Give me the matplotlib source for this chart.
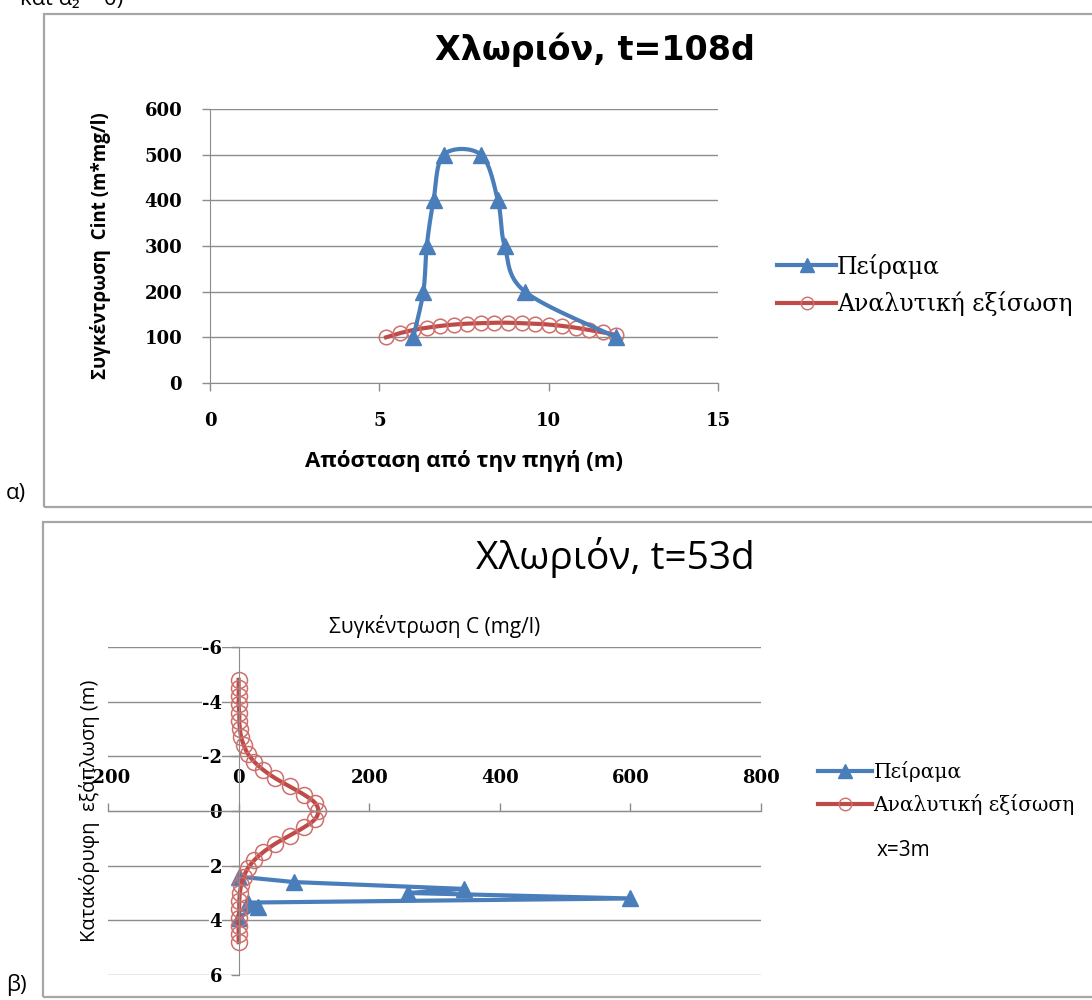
import matplotlib.pyplot as plt
import numpy as np
from matplotlib.patches import Rectangle
from matplotlib.lines import Line2D

plt.rcParams['axes.unicode_minus'] = False

W, H = 1092, 1000

# α) Χλωριόν, t=108d : ολοκληρωμένη συγκέντρωση
dist_exp = [6.0, 6.3, 6.4, 6.6, 6.9, 8.0, 8.5, 8.7, 9.3, 12.0]
cint_exp = [100, 200, 300, 400, 500, 500, 400, 300, 200, 100]
dist_an = [5.2, 5.6, 6.0, 6.4, 6.8, 7.2, 7.6, 8.0, 8.4, 8.8, 9.2, 9.6,
           10.0, 10.4, 10.8, 11.2, 11.6, 12.0]
cint_an = [100, 109, 116, 121, 125, 128, 130, 131, 132, 132, 131, 130,
           128, 125, 121, 116, 111, 105]

# β) Χλωριόν, t=53d : κατακόρυφη κατανομή στο x=3m
c_exp = [0, 85, 345, 260, 600, 15, 30, 0]
z_exp = [2.4, 2.6, 2.85, 3.0, 3.2, 3.35, 3.5, 3.9]
z_an = [-4.8, -4.5, -4.2, -3.9, -3.6, -3.3, -3.0, -2.7, -2.4, -2.1, -1.8,
        -1.5, -1.2, -0.9, -0.6, -0.3, 0.0, 0.3, 0.6, 0.9, 1.2, 1.5, 1.8,
        2.1, 2.4, 2.7, 3.0, 3.3, 3.6, 3.9, 4.2, 4.5, 4.8]
c_an = [0, 0, 0, 0, 1, 1, 2, 4, 8, 14, 24, 38, 56, 78, 100, 117, 122,
        117, 100, 78, 56, 38, 24, 14, 8, 4, 2, 1, 1, 0, 0, 0, 0]

BLUE = '#4a7ebb'
RED = '#be4b48'
RED_EDGE = '#cf6f6c'
GRID = '#8c8c8c'
SANS = ['Open Sans', 'DejaVu Sans']


def smooth(x, y, n=16):
    # bezier smoothing like the spreadsheet "smoothed line" option
    p = np.column_stack([x, y]).astype(float)
    p = np.vstack([p[0], p, p[-1]])
    out = [p[1]]
    t = np.linspace(0, 1, n)[1:, None]
    for i in range(1, len(p) - 2):
        p0, p1, p2, p3 = p[i - 1], p[i], p[i + 1], p[i + 2]
        c1 = p1 + (p2 - p0) / 6
        c2 = p2 - (p3 - p1) / 6
        seg = (1 - t)**3 * p1 + 3 * (1 - t)**2 * t * c1 + 3 * (1 - t) * t**2 * c2 + t**3 * p2
        out.extend(seg)
    out = np.array(out)
    return out[:, 0], out[:, 1]


def rect(x0, y0, x1, y1):
    return [x0 / W, 1 - y1 / H, (x1 - x0) / W, (y1 - y0) / H]


def style_ticks(ax, size=13):
    for lbl in ax.get_xticklabels() + ax.get_yticklabels():
        lbl.set_fontfamily('DejaVu Serif')
        lbl.set_fontweight('bold')
        lbl.set_fontsize(size)


fig = plt.figure(figsize=(W / 100, H / 100), dpi=100)

# chart frames (they run past the right edge of the page)
for y0, y1, x0 in [(14, 507, 44), (522, 997, 43)]:
    fig.add_artist(Rectangle((x0 / W, 1 - y1 / H), 1.2, (y1 - y0) / H,
                             transform=fig.transFigure, fill=False,
                             edgecolor='#a6a6a6', lw=1.6, clip_on=False))

fig.text(20 / W, 1 - 5 / H, 'και α₂ = 0)', fontsize=16, family=SANS, va='baseline')
fig.text(6 / W, 1 - 494 / H, 'α)', fontsize=16, family=SANS, va='center')
fig.text(6 / W, 1 - 985 / H, 'β)', fontsize=16, family=SANS, va='center')

# ---------------- α ----------------
ax1 = fig.add_axes(rect(210, 109, 718, 383))
xs, ys = smooth(dist_an, cint_an)
ax1.plot(xs, ys, color=RED, lw=3)
ax1.plot(dist_an, cint_an, ls='none', marker='o', ms=10.5, mfc='none', mec=RED_EDGE, mew=1.1)
xs, ys = smooth(dist_exp, cint_exp)
ax1.plot(xs, ys, color=BLUE, lw=3)
ax1.plot(dist_exp, cint_exp, ls='none', marker='^', ms=12, color=BLUE)
ax1.set_xlim(0, 15)
ax1.set_ylim(0, 600)
ax1.set_xticks([0, 5, 10, 15])
ax1.set_yticks(range(0, 601, 100))
ax1.grid(axis='y', color=GRID, lw=1)
ax1.set_axisbelow(True)
for s in ['top', 'right']:
    ax1.spines[s].set_visible(False)
for s in ['left', 'bottom']:
    ax1.spines[s].set_color(GRID)
ax1.tick_params(direction='out', length=6, color=GRID, width=1)
ax1.tick_params(axis='y', pad=14)
ax1.tick_params(axis='x', pad=15)
style_ticks(ax1)
ax1.set_xlabel('Απόσταση από την πηγή (m)', family=SANS, fontweight='bold', fontsize=16, labelpad=14)
ax1.set_ylabel('Συγκέντρωση  Cint (m*mg/l)', family=SANS, fontweight='bold', fontsize=13.5, labelpad=24)
fig.text(595 / W, 1 - 50 / H, 'Χλωριόν, t=108d', fontsize=24, fontweight='bold',
         family='DejaVu Sans', ha='center', va='center')

h1 = [Line2D([], [], color=BLUE, lw=3, marker='^', ms=10),
      Line2D([], [], color=RED, lw=3, marker='o', ms=9, mfc='none', mec=RED_EDGE)]
fig.legend(h1, ['Πείραμα', 'Αναλυτική εξίσωση'], loc='center left',
           bbox_to_anchor=(777 / W, 1 - 285 / H), frameon=False,
           prop={'family': 'DejaVu Serif', 'size': 17}, handlelength=2.5,
           handletextpad=0.05, labelspacing=0.55, borderpad=0, borderaxespad=0)

# ---------------- β ----------------
ax2 = fig.add_axes(rect(108, 647, 761, 975))
xs, ys = smooth(c_an, z_an)
ax2.plot(c_exp, z_exp, color=BLUE, lw=3, marker='^', ms=12)
ax2.plot(xs, ys, color=RED, lw=3)
ax2.plot(c_an, z_an, ls='none', marker='o', ms=11.5, mfc='none', mec=RED_EDGE, mew=1.1)
ax2.set_xlim(-200, 800)
ax2.set_ylim(6, -6)
ax2.set_xticks(range(-200, 801, 200))
ax2.set_yticks(range(-6, 7, 2))
ax2.set_xticklabels([str(v) for v in range(-200, 801, 200)])
ax2.set_yticklabels([str(v) for v in range(-6, 7, 2)])
ax2.grid(axis='y', color=GRID, lw=1)
ax2.set_axisbelow(True)
ax2.xaxis.tick_top()
ax2.spines['top'].set_position(('data', 0))
ax2.spines['left'].set_position(('data', 0))
ax2.spines['right'].set_visible(False)
ax2.spines['bottom'].set_visible(False)
for s in ['top', 'left']:
    ax2.spines[s].set_color(GRID)
ax2.tick_params(direction='out', length=6, color=GRID, width=1)
ax2.tick_params(axis='x', pad=11)
ax2.tick_params(axis='y', pad=6)
style_ticks(ax2)
for lbl in ax2.get_yticklabels():
    lbl.set_bbox(dict(facecolor='white', edgecolor='none', pad=0))
ax2.text(0.5, 1 + 20 / 328, 'Συγκέντρωση C (mg/l)', transform=ax2.transAxes,
         ha='center', va='center', family=SANS, fontsize=15)
fig.text(90 / W, 1 - 811 / H, 'Κατακόρυφη  εξάπλωση (m)', rotation=90, family=SANS,
         fontsize=14.5, ha='center', va='center')
fig.text(615 / W, 1 - 557 / H, 'Χλωριόν, t=53d', fontsize=28, family=SANS,
         ha='center', va='center')

h2 = [Line2D([], [], color=BLUE, lw=3, marker='^', ms=10),
      Line2D([], [], color=RED, lw=3, marker='o', ms=9, mfc='none', mec=RED_EDGE)]
fig.legend(h2, ['Πείραμα', 'Αναλυτική εξίσωση'], loc='center left',
           bbox_to_anchor=(818 / W, 1 - 788 / H), frameon=False,
           prop={'family': 'DejaVu Serif', 'size': 14.5}, handlelength=2.7,
           handletextpad=0.05, labelspacing=0.62, borderpad=0, borderaxespad=0)
fig.text(877 / W, 1 - 850 / H, 'x=3m', family=SANS, fontsize=15, va='center')

fig.savefig('out.png', dpi=100)
